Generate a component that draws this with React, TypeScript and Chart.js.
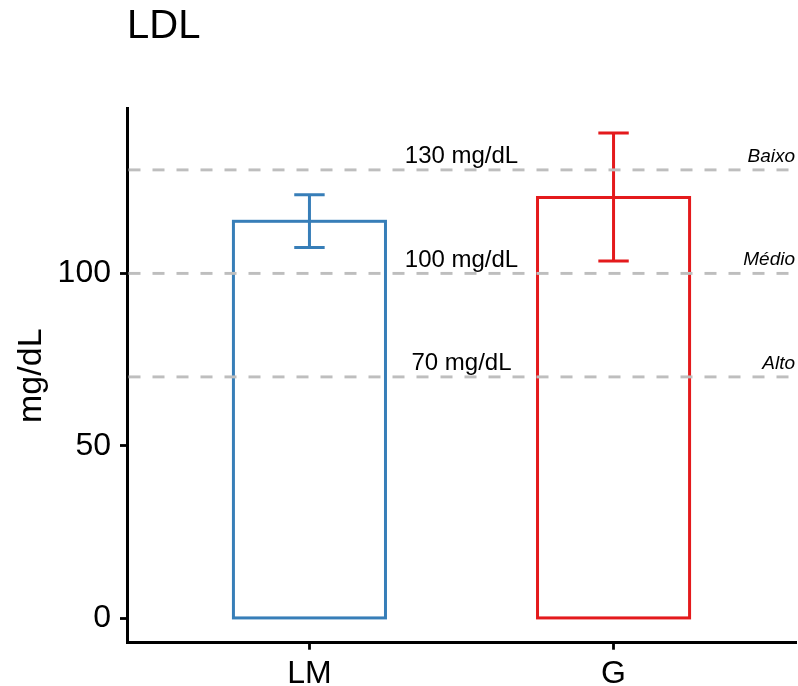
import React, { useEffect, useRef } from 'react';
import { Chart, registerables } from 'chart.js';

Chart.register(...registerables);

// ---- data ----
const categories = ['LM', 'G'];
const means = [115.1, 122.0];
const lowers = [107.5, 103.6];
const uppers = [122.8, 140.7];
const barColors = ['#377EB8', '#E41A1C'];
const refValues = [130, 100, 70];
const refLabels = ['130 mg/dL', '100 mg/dL', '70 mg/dL'];
const refLevels = ['Baixo', 'Médio', 'Alto'];
const yTicks = [0, 50, 100];
const titleText = 'LDL';
const yTitle = 'mg/dL';

const FONT = '"Liberation Sans", Arial, Helvetica, sans-serif';
const ERR_WIDTH = 0.1;

const yTop = Math.max(...uppers, ...means);
const yMin = -0.05 * yTop;
const yMax = yTop * 1.05;
const xMin = 1 - 0.6;
const xMax = categories.length + 0.6;

const overlayPlugin = {
  id: 'overlay',
  afterDatasetsDraw(chart: any) {
    const { ctx, chartArea, scales } = chart;
    const xs = scales.x;
    const ys = scales.y;
    ctx.save();
    // bar outlines (stroke centred on the bar edges, as in ggplot)
    const meta = chart.getDatasetMeta(0);
    meta.data.forEach((el: any, i: number) => {
      const { x, y, base, width } = el.getProps(['x', 'y', 'base', 'width'], true);
      ctx.strokeStyle = barColors[i];
      ctx.lineWidth = 3;
      ctx.lineJoin = 'miter';
      ctx.setLineDash([]);
      ctx.strokeRect(x - width / 2, y, width, base - y);
    });
    // error bars
    categories.forEach((_, i) => {
      const x = xs.getPixelForValue(i + 1);
      const half = xs.getPixelForValue(i + 1 + ERR_WIDTH / 2) - x;
      const yl = ys.getPixelForValue(lowers[i]);
      const yu = ys.getPixelForValue(uppers[i]);
      ctx.strokeStyle = barColors[i];
      ctx.lineWidth = 3;
      ctx.lineCap = 'butt';
      ctx.setLineDash([]);
      ctx.beginPath();
      ctx.moveTo(x, yl);
      ctx.lineTo(x, yu);
      ctx.moveTo(x - half, yu);
      ctx.lineTo(x + half, yu);
      ctx.moveTo(x - half, yl);
      ctx.lineTo(x + half, yl);
      ctx.stroke();
    });
    // reference lines
    refValues.forEach((v, i) => {
      const y = ys.getPixelForValue(v);
      ctx.strokeStyle = '#BEBEBE';
      ctx.lineWidth = 2.9;
      ctx.setLineDash([12, 12]);
      ctx.beginPath();
      ctx.moveTo(chartArea.left + 1.5, y);
      ctx.lineTo(chartArea.right, y);
      ctx.stroke();
      ctx.setLineDash([]);
      ctx.fillStyle = '#000';
      ctx.textBaseline = 'alphabetic';
      ctx.textAlign = 'center';
      ctx.font = `24px ${FONT}`;
      ctx.fillText(refLabels[i], (chartArea.left + chartArea.right) / 2, y - 6.5);
      ctx.textAlign = 'right';
      ctx.font = `italic 19px ${FONT}`;
      ctx.fillText(refLevels[i], chartArea.right - 1, y - 8);
    });
    ctx.restore();
  },
};

export default function App() {
  const ref = useRef<HTMLCanvasElement | null>(null);
  useEffect(() => {
    if (!ref.current) return;
    const chart = new Chart(ref.current, {
      type: 'bar',
      data: {
        datasets: [
          {
            data: means.map((m, i) => ({ x: i + 1, y: m })),
            backgroundColor: 'rgba(255,255,255,0)',
            borderColor: barColors,
            borderWidth: 0,
            barPercentage: 0.5,
            categoryPercentage: 1.0,
          } as any,
        ],
      },
      options: {
        animation: false,
        responsive: false,
        layout: { padding: { left: 0, right: 2, top: 0, bottom: 0 } },
        plugins: {
          legend: { display: false },
          tooltip: { enabled: false },
          title: {
            display: true,
            text: titleText,
            align: 'start',
            fullSize: false,
            color: '#000',
            font: { family: FONT, size: 40, weight: 'normal', lineHeight: 1 },
            padding: { top: 7.2, bottom: 61.5 },
          } as any,
        },
        scales: {
          x: {
            type: 'linear',
            min: xMin,
            max: xMax,
            offset: false,
            afterBuildTicks: (s: any) => {
              s.ticks = categories.map((_, i) => ({ value: i + 1 }));
            },
            afterFit: (s: any) => {
              s.height = 43.3;
            },
            ticks: {
              callback: (v: any) => categories[Number(v) - 1] ?? '',
              color: '#000',
              font: { family: FONT, size: 32 },
              padding: 5,
              maxRotation: 0,
              autoSkip: false,
            },
            grid: {
              offset: false,
              drawOnChartArea: false,
              drawTicks: true,
              tickLength: 7,
              tickWidth: 2.8,
              tickColor: '#000',
            },
            border: { display: true, color: '#000', width: 3 },
          } as any,
          y: {
            type: 'linear',
            min: yMin,
            max: yMax,
            afterBuildTicks: (s: any) => {
              s.ticks = yTicks.map((v) => ({ value: v }));
            },
            afterFit: (s: any) => {
              s.width = 127;
            },
            ticks: {
              color: '#000',
              font: { family: FONT, size: 32 },
              padding: 9,
            },
            grid: {
              drawOnChartArea: false,
              drawTicks: true,
              tickLength: 7,
              tickWidth: 2.8,
              tickColor: '#000',
            },
            border: { display: true, color: '#000', width: 3 },
            title: {
              display: true,
              text: yTitle,
              color: '#000',
              font: { family: FONT, size: 34 },
              padding: { top: 11, bottom: 0 },
            },
          } as any,
        },
      },
      plugins: [overlayPlugin],
    });
    return () => chart.destroy();
  }, []);
  return (
    <div style={{ position: 'fixed', left: 0, top: 0, width: 798, height: 686, background: '#fff' }}>
      <canvas ref={ref} width={798} height={686} />
    </div>
  );
}
